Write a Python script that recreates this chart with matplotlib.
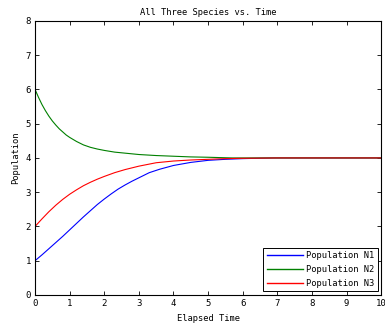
import numpy as np
import matplotlib
matplotlib.use("Agg")
import matplotlib.pyplot as plt

# values
t_n1 = [0, 0.2, 0.4, 0.6, 0.8, 1.0, 1.2, 1.4, 1.6, 1.8, 2.0, 2.2, 2.4, 2.6, 2.8,
        3.0, 3.3, 3.6, 4.0, 4.5, 5.0, 5.5, 6.0, 6.9, 10]
n1 = [1.0, 1.17, 1.35, 1.53, 1.71, 1.9, 2.09, 2.28, 2.46, 2.64, 2.8, 2.95, 3.09,
      3.21, 3.32, 3.42, 3.57, 3.67, 3.78, 3.87, 3.93, 3.96, 3.98, 4.0, 4.0]

t_n2 = [0, 0.1, 0.2, 0.3, 0.4, 0.5, 0.6, 0.7, 0.8, 0.9, 1.0, 1.2, 1.4, 1.6, 1.8,
        2.0, 2.3, 2.6, 3.0, 3.5, 4.0, 4.5, 5.0, 5.7, 10]
n2 = [6.0, 5.77, 5.56, 5.38, 5.22, 5.08, 4.96, 4.85, 4.76, 4.67, 4.6, 4.48, 4.38,
      4.31, 4.26, 4.22, 4.17, 4.14, 4.1, 4.07, 4.05, 4.03, 4.02, 4.0, 4.0]

t_n3 = [0, 0.2, 0.4, 0.6, 0.8, 1.0, 1.2, 1.4, 1.6, 1.8, 2.0, 2.3, 2.6, 3.0, 3.5,
        4.0, 4.5, 5.0, 5.5, 6.0, 7.0, 10]
n3 = [2.0, 2.22, 2.43, 2.62, 2.79, 2.94, 3.07, 3.19, 3.29, 3.38, 3.46, 3.57, 3.66,
      3.76, 3.86, 3.91, 3.94, 3.96, 3.98, 3.99, 4.0, 4.0]

labels = ['Population N1', 'Population N2', 'Population N3']
colors = ['#0000ff', '#008000', '#ff0000']

plt.rcParams['font.family'] = 'DejaVu Sans Mono'
plt.rcParams['font.size'] = 6.3

fig = plt.figure(figsize=(3.85, 3.27), dpi=100)
ax = fig.add_axes([0.091, 0.098, 0.899, 0.838])

lines = []
for t, n, c, lab in zip([t_n1, t_n2, t_n3], [n1, n2, n3], colors, labels):
    ln, = ax.plot(t, n, color=c, lw=0.8, label=lab)
    lines.append(ln)

ax.set_xlim(0, 10)
ax.set_ylim(0, 8)
ax.set_xticks(range(0, 11))
ax.set_yticks(range(0, 9))
ax.tick_params(direction='in', length=3, width=0.6, top=True, right=True,
               labelsize=6.5, pad=3)
for s in ax.spines.values():
    s.set_linewidth(0.8)

ax.set_title('All Three Species vs. Time', fontsize=6.3, pad=4)
ax.set_xlabel('Elapsed Time', fontsize=6.3, labelpad=4)
ax.set_ylabel('Population', fontsize=6.3, labelpad=4)

leg = ax.legend(handles=lines, loc='lower right', fancybox=False,
                edgecolor='black', framealpha=1, handlelength=4.2,
                handletextpad=0.3, labelspacing=0.55, borderaxespad=0.4,
                borderpad=0.4)
leg.get_frame().set_linewidth(0.7)
for h, c in zip(leg.get_lines(), colors):
    h.set_color(c)
    h.set_linewidth(1.0)

fig.savefig('out.png', dpi=100)
